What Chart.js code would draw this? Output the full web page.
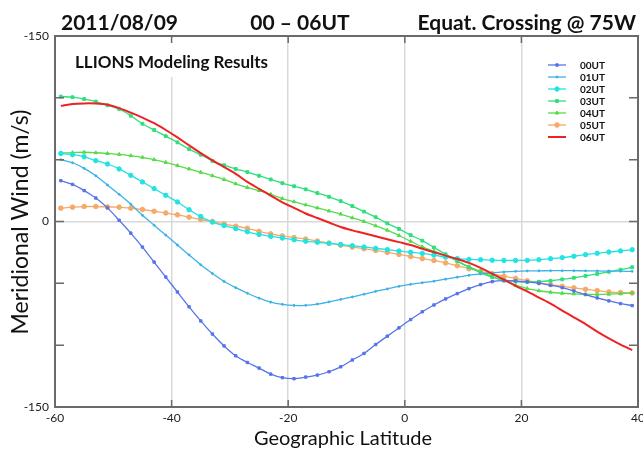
<!DOCTYPE html>
<html>
<head>
<meta charset="utf-8">
<script src="https://cdn.jsdelivr.net/npm/chart.js@4.4.0/dist/chart.umd.min.js"></script>
<style>
  html, body { margin: 0; padding: 0; background: #fff; }
  canvas { display: block; }
</style>
</head>
<body>
<canvas id="grafico" width="643" height="450"></canvas>
<script>
// Latitudes dos pontos do modelo
const latitudes = [-59, -57, -55, -53, -51, -49, -47, -45, -43, -41, -39, -37, -35, -33, -31, -29, -27, -25, -23, -21,
  -19, -17, -15, -13, -11, -9, -7, -5, -3, -1, 1, 3, 5, 7, 9, 11, 13, 15, 17, 19,
  21, 23, 25, 27, 29, 31, 33, 35, 37, 39];

// Vento meridional (m/s) por hora
const vento00 = [33, 30, 25, 19, 11, 1, -9.4, -20.7, -32.8, -44.9, -57, -69, -80.4, -91, -100.6, -108.6, -114, -118.5, -123.4, -126.3,
  -127.1, -125.8, -124.2, -121.5, -117.5, -112, -106.7, -99.5, -92.7, -86, -79.3, -73, -67.5, -62.6, -58.3, -54.3, -51, -48.6, -47.8, -48,
  -48.8, -49.9, -51.6, -53.5, -56.2, -59.1, -61.8, -64.2, -66.4, -68];
const vento01 = [50, 47.5, 43, 37, 29.5, 22, 14, 5, -3, -11, -19, -27, -35, -42, -48.5, -53.5, -58, -62, -65.2, -67,
  -67.9, -67.8, -66.8, -65, -63, -61, -58.8, -56.5, -54.5, -52.4, -50.8, -49.5, -48.3, -46.6, -45, -43.5, -42.4, -41.5, -40.8, -40.3,
  -40, -39.9, -39.8, -39.8, -39.8, -39.9, -40, -40.1, -40.2, -40.3];
const vento02 = [55, 54, 52.3, 49.2, 46.5, 42.5, 37.3, 32, 26.6, 21.2, 15.8, 9.5, 4, -0.5, -3.3, -5.8, -8.3, -10.5, -12, -13.4,
  -14.8, -16, -16.8, -17.7, -18.6, -19.6, -20.6, -21.7, -22.8, -23.9, -24.9, -25.8, -27.2, -28.8, -30, -30.6, -30.9, -31.3, -31.5, -31.5,
  -31.4, -30.9, -30.1, -29.2, -28.1, -26.8, -25.7, -24.7, -23.8, -22.8];
const vento03 = [101, 100.5, 99, 97, 94, 91, 85.5, 79, 74, 69, 64, 58.5, 54, 49, 45.5, 42.5, 40, 37, 34, 31,
  28.5, 26, 23, 20, 16.5, 12.5, 8, 3.5, -1.5, -6, -11, -15.5, -21, -26.5, -32, -37, -41.5, -45, -47.3, -48.5,
  -49, -48.7, -47.9, -46.8, -45.5, -44, -42.4, -40.7, -39, -37];
const vento04 = [55.4, 55.7, 56, 55.6, 55, 54.3, 53.2, 51.9, 50, 47.8, 45.2, 42.5, 39.8, 37, 34, 30.5, 27.5, 25, 22, 18.5,
  16, 13.5, 11, 8.5, 6, 3, 0, -3.5, -7, -11.3, -16, -20.5, -24, -27.4, -32, -36.5, -40.5, -44.5, -48, -51.5,
  -54.2, -56, -57.2, -58, -58.5, -58.9, -59, -58.8, -58.4, -57.8];
const vento05 = [10.8, 11.6, 12.1, 12.1, 11.8, 11.6, 10.8, 9.7, 8.3, 6.9, 5.4, 3.5, 1.6, 0, -1.9, -3.8, -5.5, -8, -10, -11.7,
  -13, -14.2, -15.8, -17.5, -19.2, -20.7, -22, -23.4, -25, -26.6, -28.3, -30, -31.5, -33.5, -35.8, -38.2, -40.3, -42.3, -44.2, -46,
  -47.9, -49.5, -51, -52.4, -53.6, -54.8, -55.9, -57, -57.5, -57.8];
const vento06 = [93.5, 95, 95.5, 95.4, 94.4, 91.7, 88, 84, 79.5, 74, 68, 61.5, 55.3, 49.5, 44, 38.5, 32, 26.4, 21, 15.5,
  11, 6.5, 2.8, -0.8, -4.5, -7.2, -9.5, -12, -14.4, -16.7, -19, -22, -24.8, -27.6, -30.3, -33.5, -37.5, -42.3, -47, -52,
  -56.5, -61.5, -66.5, -72, -77.5, -83, -89, -94.5, -99.5, -104];

const rotulos = ['00UT', '01UT', '02UT', '03UT', '04UT', '05UT', '06UT'];
const ticksX = [-60, -40, -20, 0, 20, 40];
const ticksY = [-150, -100, -50, 0, 50, 100, 150];

const titulos = ['2011/08/09', '00 – 06UT', 'Equat. Crossing @ 75W'];
const subtitulo = 'LLIONS Modeling Results';
const tituloX = 'Geographic Latitude';
const tituloY = 'Meridional Wind (m/s)';

// Estilo de cada serie
const series = [vento00, vento01, vento02, vento03, vento04, vento05, vento06];
const cores = ['#5674ea', '#3cb2e6', '#22e2e2', '#2fdf7c', '#55dc4c', '#f5aa68', '#ee2222'];
const marcadores = ['rect', 'circle', 'circle', 'rect', 'triangle', 'circle', false];
const raios = [1.7, 1, 2.2, 2, 2, 2.3, 0];

const pontos = (valores) => valores.map((v, i) => ({ x: latitudes[i], y: v }));

const datasets = series.map((valores, i) => ({
  label: rotulos[i],
  data: pontos(valores),
  borderColor: cores[i],
  backgroundColor: cores[i],
  borderWidth: i === 6 ? 2 : 1.3,
  pointStyle: marcadores[i],
  pointRadius: raios[i],
  pointBorderWidth: 1,
  tension: 0.3,
  order: i === 6 ? -1 : i
}));

const transparente = 'rgba(0,0,0,0)';

// Caixa, marcas dos eixos, titulos e legenda
const decoracao = {
  id: 'decoracao',
  beforeDatasetsDraw(chart) {
    const { ctx, chartArea: a } = chart;
    ctx.save();
    ctx.fillStyle = '#fff';
    ctx.fillRect(a.left + 3, a.top + 2, 228, 39);
    ctx.fillRect(537, 56, 92, 92);
    ctx.restore();
  },
  afterDatasetsDraw(chart) {
    const { ctx, chartArea: a, scales } = chart;
    ctx.save();

    // Marcas internas
    ctx.strokeStyle = '#6a6a6a';
    ctx.lineWidth = 1.5;
    ctx.beginPath();
    ticksY.slice(1, -1).forEach((v) => {
      const y = scales.y.getPixelForValue(v);
      ctx.moveTo(a.left, y); ctx.lineTo(a.left + 9, y);
      ctx.moveTo(a.right - 9, y); ctx.lineTo(a.right, y);
    });
    ticksX.slice(1, -1).forEach((v) => {
      const x = scales.x.getPixelForValue(v);
      ctx.moveTo(x, a.top); ctx.lineTo(x, a.top + 7);
      ctx.moveTo(x, a.bottom - 7); ctx.lineTo(x, a.bottom);
    });
    ctx.stroke();

    // Moldura
    ctx.lineWidth = 2;
    ctx.strokeRect(a.left, a.top, a.right - a.left, a.bottom - a.top);

    // Titulos
    ctx.fillStyle = '#111';
    ctx.font = 'bold 21px Lato';
    ctx.textBaseline = 'alphabetic';
    ctx.textAlign = 'left';
    ctx.fillText(titulos[0], 61, 30);
    ctx.textAlign = 'center';
    ctx.fillText(titulos[1], 300, 30);
    ctx.textAlign = 'right';
    ctx.fillText(titulos[2], 636, 30);

    ctx.font = 'bold 17px Lato';
    ctx.textAlign = 'left';
    ctx.fillText(subtitulo, 75, 68);

    ctx.font = '20px Lato';
    ctx.textAlign = 'center';
    ctx.fillText(tituloX, 343, 445);

    ctx.save();
    ctx.translate(28, 222);
    ctx.rotate(-Math.PI / 2);
    ctx.font = '23px Lato';
    ctx.fillText(tituloY, 0, 0);
    ctx.restore();

    // Legenda
    ctx.font = 'bold 10px Lato';
    ctx.textAlign = 'left';
    ctx.textBaseline = 'middle';
    chart.data.datasets.forEach((ds, i) => {
      const y = 65 + i * 12;
      ctx.strokeStyle = ds.borderColor;
      ctx.lineWidth = ds.borderWidth;
      ctx.beginPath();
      ctx.moveTo(548, y); ctx.lineTo(566, y);
      ctx.stroke();
      if (ds.pointStyle) {
        ctx.fillStyle = ds.borderColor;
        ctx.lineWidth = 1;
        Chart.helpers.drawPoint(ctx, { pointStyle: ds.pointStyle, radius: ds.pointRadius, rotation: 0, borderWidth: 1 }, 557, y);
      }
      ctx.fillStyle = '#111';
      ctx.fillText(ds.label, 580, y + 0.5);
    });

    ctx.restore();
  }
};

const ctx = document.getElementById('grafico').getContext('2d');
const chart = new Chart(ctx, {
  type: 'line',
  data: { datasets },
  options: {
    responsive: false,
    animation: false,
    devicePixelRatio: 1,
    layout: { padding: { top: 36, right: 3, left: 0, bottom: 0 } },
    plugins: { legend: { display: false }, tooltip: { enabled: false } },
    scales: {
      x: {
        type: 'linear',
        min: -60,
        max: 40,
        afterBuildTicks: (s) => { s.ticks = ticksX.map((v) => ({ value: v })); },
        afterFit: (s) => { s.height = 43; s.paddingLeft = 0; s.paddingRight = 0; },
        ticks: { color: '#222', font: { family: 'Lato', size: 12 }, padding: 4, maxRotation: 0 },
        grid: {
          drawTicks: false,
          lineWidth: 1.5,
          color: (c) => (c.tick && (c.tick.value === -60 || c.tick.value === 40)) ? transparente : '#d9d9d9'
        },
        border: { display: false }
      },
      y: {
        min: -150,
        max: 150,
        afterBuildTicks: (s) => { s.ticks = ticksY.map((v) => ({ value: v })); },
        afterFit: (s) => { s.width = 55; },
        ticks: {
          color: '#222',
          font: { family: 'Lato', size: 12 },
          padding: 6,
          callback: (v) => v === 0 ? '0' : (Math.abs(v) === 150 ? '-150' : '')
        },
        grid: {
          drawTicks: false,
          lineWidth: 1.5,
          color: (c) => (c.tick && c.tick.value === 0) ? '#d9d9d9' : transparente
        },
        border: { display: false }
      }
    }
  },
  plugins: [decoracao]
});
</script>
</body>
</html>
